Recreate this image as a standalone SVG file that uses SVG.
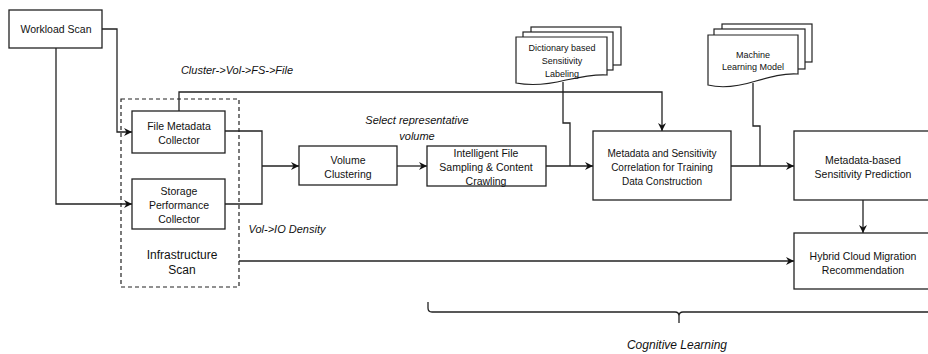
<svg xmlns="http://www.w3.org/2000/svg" width="928" height="354" viewBox="0 0 928 354">
<defs>
<marker id="arr" markerUnits="userSpaceOnUse" markerWidth="9" markerHeight="9" refX="8" refY="4" orient="auto">
<path d="M0,0 L8,4 L0,8 L2.5,4 Z" fill="#111"/>
</marker>
<style>
.box{fill:#fff;stroke:#222;stroke-width:1.3}
.doc{fill:#fff;stroke:#222;stroke-width:1.2}
.dash{fill:none;stroke:#222;stroke-width:1.2;stroke-dasharray:4,3}
.ln{fill:none;stroke:#222;stroke-width:1.3}
.ar{fill:none;stroke:#222;stroke-width:1.3;marker-end:url(#arr)}
text{font-family:"Liberation Sans",Arial,sans-serif;fill:#111;text-anchor:middle}
.t11{font-size:11px}
.t105{font-size:10.5px}
.t10{font-size:10px}
.t9{font-size:9px}
.t12{font-size:12px}
.it{font-style:italic;font-size:11px}
</style>
</defs>
<rect width="928" height="354" fill="#fff"/>

<g id="connectors">
<path class="ar" d="M102,29 H117 V132 H132"/>
<path class="ar" d="M56,48 V204 H132"/>
<path class="ln" d="M225,131 H262 V204 H225"/>
<path class="ar" d="M262,166 H299"/>
<path class="ar" d="M179,111 V92 H662 V131"/>
<path class="ar" d="M397,166 H427"/>
<path class="ar" d="M546,166 H593"/>
<path class="ln" d="M563,82 V123 H570 V166"/>
<path class="ar" d="M731,166 H794"/>
<path class="ln" d="M753,83 V126 H760 V166"/>
<path class="ar" d="M863,200 V233"/>
<path class="ar" d="M239,261 H794"/>
</g>

<g id="workload-scan">
<rect class="box" x="9" y="10" width="93" height="38"/>
<text class="t105" x="56" y="33">Workload Scan</text>
</g>

<g id="infrastructure-scan">
<rect class="dash" x="121" y="99" width="118" height="188"/>
<text class="t12" x="182" y="259">Infrastructure</text>
<text class="t12" x="182" y="274">Scan</text>
</g>

<g id="file-metadata-collector">
<rect class="box" x="132" y="111" width="93" height="42"/>
<text class="t105" x="179" y="130">File Metadata</text>
<text class="t105" x="179" y="144">Collector</text>
</g>

<g id="storage-performance-collector">
<rect class="box" x="132" y="179" width="93" height="50"/>
<text class="t105" x="179" y="195">Storage</text>
<text class="t105" x="179" y="209">Performance</text>
<text class="t105" x="179" y="223">Collector</text>
</g>

<g id="volume-clustering">
<rect class="box" x="299" y="146" width="98" height="39"/>
<text class="t105" x="348" y="164">Volume</text>
<text class="t105" x="348" y="178">Clustering</text>
</g>

<g id="intelligent-file-sampling">
<rect class="box" x="427" y="146" width="119" height="40"/>
<text class="t105" x="486" y="157">Intelligent File</text>
<text class="t105" x="486" y="171">Sampling &amp; Content</text>
<text class="t105" x="486" y="185">Crawling</text>
</g>

<g id="dictionary-labeling">
<rect class="doc" x="531" y="27" width="90" height="38"/>
<rect class="doc" x="523" y="32" width="90" height="38"/>
<path class="doc" d="M516,37 H607 V75 C594,74 580,77 566,80 C550,84 532,86 516,83 Z"/>
<text class="t9" x="562" y="51">Dictionary based</text>
<text class="t9" x="562" y="64">Sensitivity</text>
<text class="t9" x="562" y="77">Labeling</text>
</g>

<g id="metadata-sensitivity-correlation">
<rect class="box" x="593" y="131" width="138" height="69"/>
<text class="t10" x="662" y="157">Metadata and Sensitivity</text>
<text class="t10" x="662" y="171">Correlation for Training</text>
<text class="t10" x="662" y="185">Data Construction</text>
</g>

<g id="machine-learning-model">
<rect class="doc" x="722" y="24" width="90" height="38"/>
<rect class="doc" x="714" y="29" width="91" height="40"/>
<path class="doc" d="M708,35 H798 V74 C784,73 770,77 756,81 C740,86 724,89 708,85 Z"/>
<text class="t9" x="753" y="58">Machine</text>
<text class="t9" x="753" y="70">Learning Model</text>
</g>

<g id="metadata-based-prediction">
<rect class="box" x="794" y="131" width="150" height="69"/>
<text class="t105" x="863" y="164">Metadata-based</text>
<text class="t105" x="863" y="178">Sensitivity Prediction</text>
</g>

<g id="hybrid-cloud-migration">
<rect class="box" x="794" y="233" width="150" height="56"/>
<text class="t105" x="863" y="260">Hybrid Cloud Migration</text>
<text class="t105" x="863" y="274">Recommendation</text>
</g>

<g id="labels">
<text class="it" x="237" y="74">Cluster-&gt;Vol-&gt;FS-&gt;File</text>
<text class="it" x="417" y="124">Select representative</text>
<text class="it" x="417" y="140">volume</text>
<text class="it" x="287" y="233">Vol-&gt;IO Density</text>
</g>

<g id="cognitive-learning">
<path class="ln" d="M428,302 V308 Q428,312 432,312 H675 Q679,312 679,316 V323 M679,316 Q679,312 683,312 H935"/>
<text class="it" style="font-size:12px" x="677" y="349">Cognitive Learning</text>
</g>
</svg>
